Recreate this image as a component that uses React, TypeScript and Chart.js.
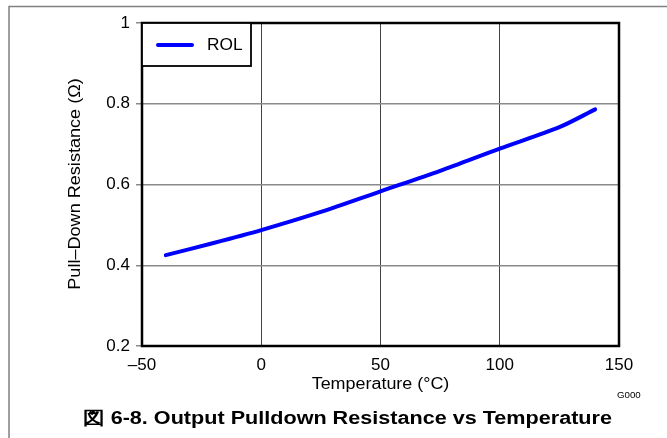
import React, { useEffect, useRef } from "react";
import { Chart, registerables } from "chart.js";

Chart.register(...registerables);

const temperatures = [-40, -20, 0, 25, 50, 75, 100, 125, 140];
const rolValues = [0.425, 0.455, 0.487, 0.532, 0.583, 0.634, 0.689, 0.742, 0.786];
const xTicks = [-50, 0, 50, 100, 150];
const yTicks = [0.2, 0.4, 0.6, 0.8, 1];
const seriesName = "ROL";
const xTitle = "Temperature (°C)";
const yTitle = "Pull–Down Resistance (Ω)";
const figTitle = "図 6-8. Output Pulldown Resistance vs Temperature";
const figCode = "G000";

const FONT = "'Liberation Sans', Arial, Helvetica, sans-serif";

function stretchedText(ctx: CanvasRenderingContext2D, text: string, x: number, y: number, sx: number, rot = 0) {
  ctx.save();
  ctx.translate(x, y);
  if (rot) ctx.rotate(rot);
  ctx.scale(sx, 1);
  ctx.fillText(text, 0, 0);
  ctx.restore();
}

const decor = {
  id: "decor",
  afterDraw(chart: any) {
    const ctx = chart.ctx as CanvasRenderingContext2D;
    const a = chart.chartArea;
    ctx.save();
    // outer frame
    ctx.strokeStyle = "#808080";
    ctx.lineWidth = 1.5;
    ctx.beginPath();
    ctx.moveTo(9, 438);
    ctx.lineTo(9, 6.5);
    ctx.lineTo(667, 6.5);
    ctx.stroke();
    // plot border
    ctx.strokeStyle = "#000";
    ctx.lineWidth = 2.5;
    ctx.strokeRect(a.left, a.top, a.right - a.left, a.bottom - a.top);
    // legend box
    const lx = a.left, ly = a.top, lw = 109, lh = 43;
    ctx.fillStyle = "#fff";
    ctx.fillRect(lx, ly, lw, lh);
    ctx.lineWidth = 1.8;
    ctx.strokeRect(lx, ly, lw, lh);
    ctx.strokeStyle = "#0000ff";
    ctx.lineWidth = 4;
    ctx.lineCap = "round";
    ctx.beginPath();
    ctx.moveTo(lx + 16, ly + 22);
    ctx.lineTo(lx + 50, ly + 22);
    ctx.stroke();
    ctx.fillStyle = "#000";
    ctx.font = `16px ${FONT}`;
    ctx.textAlign = "left";
    ctx.textBaseline = "middle";
    stretchedText(ctx, seriesName, lx + 65, ly + 23, 1.08);
    // axis titles
    ctx.font = `16px ${FONT}`;
    ctx.textAlign = "center";
    ctx.textBaseline = "alphabetic";
    stretchedText(ctx, xTitle, (a.left + a.right) / 2, 389, 1.12);
    ctx.textBaseline = "middle";
    stretchedText(ctx, yTitle, 76, 184, 1.13, -Math.PI / 2);
    // code
    ctx.font = `9px ${FONT}`;
    ctx.textAlign = "left";
    ctx.textBaseline = "middle";
    stretchedText(ctx, figCode, 617, 396, 1.08);
    // figure title
    ctx.font = `bold 18px ${FONT}`;
    ctx.textAlign = "center";
    ctx.textBaseline = "alphabetic";
    stretchedText(ctx, figTitle, 347.5, 424, 1.2);
    ctx.restore();
  },
};

export default function App() {
  const ref = useRef<HTMLCanvasElement>(null);
  useEffect(() => {
    if (!ref.current) return;
    const chart = new Chart(ref.current, {
      type: "line",
      data: {
        datasets: [
          {
            label: seriesName,
            data: temperatures.map((t, i) => ({ x: t, y: rolValues[i] })),
            borderColor: "#0000ff",
            borderWidth: 4,
            pointRadius: 0,
            tension: 0.3,
            borderCapStyle: "round",
            fill: false,
          },
        ],
      },
      options: {
        animation: false,
        responsive: false,
        layout: { padding: { left: 0, top: 23, right: 48, bottom: 0 } },
        plugins: { legend: { display: false }, tooltip: { enabled: false }, title: { display: false } },
        scales: {
          x: {
            type: "linear",
            min: -50,
            max: 150,
            afterBuildTicks: (s: any) => {
              s.ticks = xTicks.map((v) => ({ value: v }));
            },
            afterFit: (s: any) => {
              s.height = 92;
            },
            border: { display: false },
            grid: { color: "#444", lineWidth: 1, drawTicks: false },
            ticks: {
              color: "#000",
              font: { family: FONT, size: 17 },
              padding: 9,
              maxRotation: 0,
              callback: (v: any) => (v < 0 ? "–" + Math.abs(v) : String(v)),
            },
          },
          y: {
            type: "linear",
            min: 0.2,
            max: 1,
            afterBuildTicks: (s: any) => {
              s.ticks = yTicks.map((v) => ({ value: v }));
            },
            afterFit: (s: any) => {
              s.width = 142;
            },
            border: { display: false },
            grid: { color: "#8a8a8a", lineWidth: 1.5, tickLength: 6 },
            ticks: {
              color: "#000",
              font: { family: FONT, size: 17 },
              padding: 6,
              callback: (v: any) => String(Math.round(v * 10) / 10),
            },
          },
        },
      },
      plugins: [decor],
    } as any);
    return () => chart.destroy();
  }, []);
  return (
    <div style={{ position: "fixed", left: 0, top: 0, width: 667, height: 438, background: "#fff" }}>
      <canvas ref={ref} width={667} height={438} style={{ display: "block" }} />
    </div>
  );
}
